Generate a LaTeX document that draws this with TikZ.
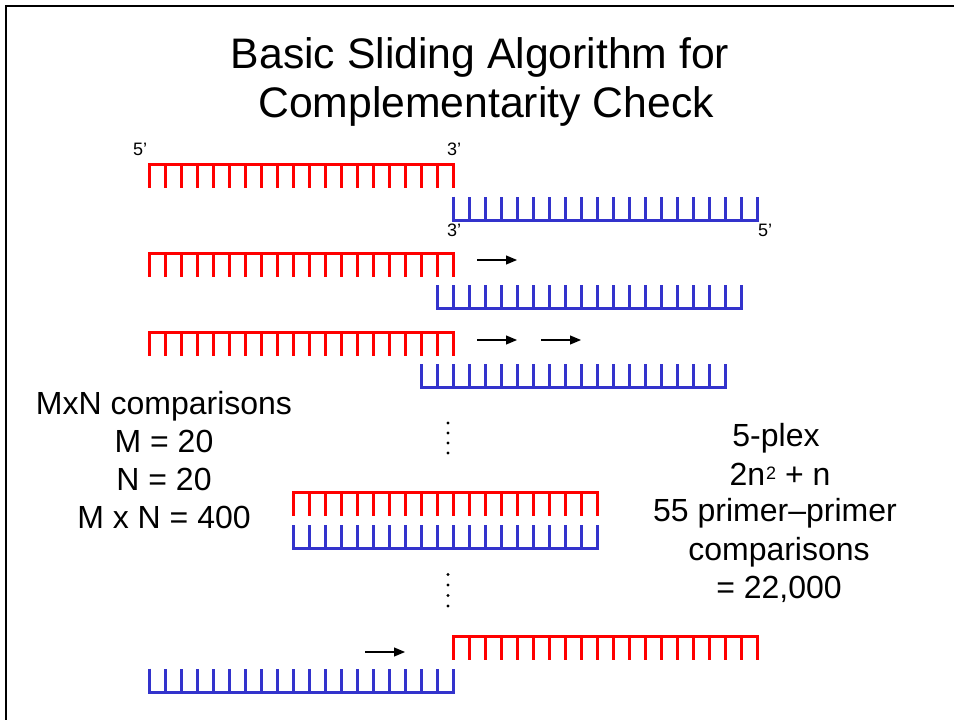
\documentclass[tikz,border=0pt]{standalone}
\usepackage{fontspec}
\setmainfont{Liberation Sans}
\usetikzlibrary{arrows.meta}

\definecolor{strandred}{RGB}{255,0,0}
\definecolor{strandblue}{RGB}{51,51,204}

\tikzset{
  strand/.style={line width=3pt, line join=miter},
  slide/.style={line width=1.1pt, -{Triangle[length=11pt,width=9pt]}},
  titletext/.style={font=\fontsize{42.7}{51}\selectfont, inner sep=0pt, anchor=base},
  bodytext/.style={font=\fontsize{32}{38}\selectfont, inner sep=0pt, anchor=base},
  endlabel/.style={font=\fontsize{18}{21}\selectfont, inner sep=0pt, anchor=base west},
  dotmark/.style={fill=black, draw=none}
}

% raised, smaller digit for the exponent
\newcommand{\expdigit}[1]{\kern1pt\raisebox{6pt}{\fontsize{18}{18}\selectfont #1}}

% 20-base strand, backbone on top, bases hanging down
\newcommand{\downstrand}[3]{%
  \draw[strand,#3] (#1,#2+23.5) -- (#1,#2) -- (#1+304,#2) -- (#1+304,#2+23.5);
  \foreach \k in {1,...,18} \draw[strand,#3] (#1+16*\k,#2) -- (#1+16*\k,#2+23.5);
}
% 20-base strand, backbone below, bases pointing up
\newcommand{\upstrand}[3]{%
  \draw[strand,#3] (#1,#2-23.5) -- (#1,#2) -- (#1+304,#2) -- (#1+304,#2-23.5);
  \foreach \k in {1,...,18} \draw[strand,#3] (#1+16*\k,#2) -- (#1+16*\k,#2-23.5);
}

\begin{document}
\begin{tikzpicture}[x=1pt,y=-1pt]
\useasboundingbox (0,0) rectangle (954,720);

% frame
\draw[line width=2.2pt] (6,720) -- (6,6) -- (954,6);

% title
\node[titletext] (title1) at (480,68) {Basic Sliding Algorithm for};
\node[titletext] (title2) at (486,117.5) {Complementarity Check};

% starting position
\downstrand{149}{164}{strandred}
\upstrand{453}{220}{strandblue}
\node[endlabel] (lab5a) at (133,155) {5’};
\node[endlabel] (lab3a) at (447,155) {3’};
\node[endlabel] (lab3b) at (447,236) {3’};
\node[endlabel] (lab5b) at (758,236) {5’};

% one step
\downstrand{149}{253}{strandred}
\upstrand{437}{308.5}{strandblue}
\coordinate (s1a) at (477,260); \coordinate (e1a) at (517,260);
\draw[slide] (s1a) -- (e1a);

% two steps
\downstrand{149}{332}{strandred}
\upstrand{421}{387.5}{strandblue}
\coordinate (s2a) at (477,340); \coordinate (e2a) at (517,340);
\coordinate (s2b) at (541,340); \coordinate (e2b) at (581,340);
\draw[slide] (s2a) -- (e2a);
\draw[slide] (s2b) -- (e2b);

% ellipsis
\foreach \y in {423,433,443,453} \fill[dotmark] (448,\y) circle (1.6pt);

% full overlap
\downstrand{293}{492}{strandred}
\upstrand{293}{548.5}{strandblue}

% ellipsis
\foreach \y in {574.5,585,595.5,606} \fill[dotmark] (448,\y) circle (1.6pt);

% final position
\downstrand{453}{636}{strandred}
\upstrand{149}{692}{strandblue}
\coordinate (s3a) at (365,652); \coordinate (e3a) at (405,652);
\draw[slide] (s3a) -- (e3a);

% left notes
\node[bodytext] (mxn) at (164,414) {MxN comparisons};
\node[bodytext] (mval) at (164,452.3) {M = 20};
\node[bodytext] (nval) at (164,490) {N = 20};
\node[bodytext] (prod) at (164,528.3) {M x N = 400};

% right notes
\node[bodytext] (plex) at (776,446.7) {5-plex};
\node[bodytext] (form) at (780,485) {2n\expdigit{2} + n};
\node[bodytext] (pairs) at (775,521.7) {55 primer–primer};
\node[bodytext] (comp) at (779,560) {comparisons};
\node[bodytext] (total) at (779,598.3) {= 22,000};
\end{tikzpicture}
\end{document}
